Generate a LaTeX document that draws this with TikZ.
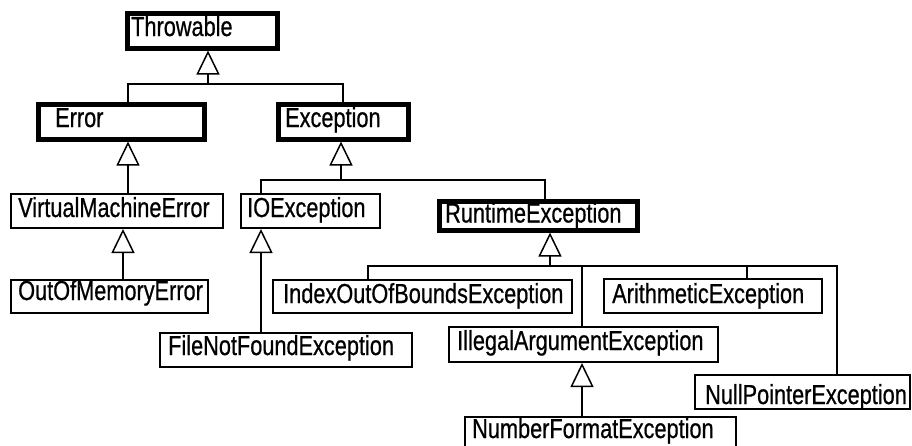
\documentclass[tikz,border=0pt]{standalone}
\usepackage{fontspec}
\setmainfont{Liberation Sans}[FakeStretch=0.79,FakeBold=0.6]
\usetikzlibrary{arrows.meta}
% name, left, top, right, bottom, text x, text baseline, text, border width
\newcommand{\umlbox}[9]{%
  \node[draw, line width=#9, anchor=north west,
        minimum width={#4-#2-#9}, minimum height={#5-#3-#9}]
        (#1) at ({#2+#9/2},{#3+#9/2}) {};
  \node[lbl] (#1-t) at (#6,#7) {#8};
}
\begin{document}
\begin{tikzpicture}[x=1pt,y=-1pt,
  every node/.style={inner sep=0pt},
  lbl/.style={anchor=base west, font=\fontsize{27.5}{31}\selectfont},
  conn/.style={line width=2pt},
  inh/.style={line width=2pt,
    -{Triangle[open, length=24pt, width=23pt, line width=1.5pt]}}]
\clip (0,0) rectangle (912,445);
\useasboundingbox (0,0) rectangle (912,445);
\fill[white] (0,0) rectangle (912,445);

\umlbox{thr}{122}{8}{277}{48}{131}{36}{Throwable}{5}
\umlbox{err}{33}{99}{204}{139}{55}{127}{Error}{5}
\umlbox{exc}{273}{99}{408}{139}{285}{127}{Exception}{5}
\umlbox{rt}{434}{196}{637}{230}{445}{222.5}{RuntimeException}{5}
\umlbox{vme}{9}{192}{223}{228}{18}{217}{VirtualMachineError}{2}
\umlbox{io}{239}{192}{380}{228}{247}{217}{IOException}{2}
\umlbox{oom}{9}{278}{208}{313}{18}{300}{OutOfMemoryError}{2}
\umlbox{fnf}{158}{331}{412}{367}{168}{355}{FileNotFoundException}{2}
\umlbox{idx}{271}{278}{572}{313}{283}{303}{IndexOutOfBoundsException}{2}
\umlbox{ari}{602}{277}{822}{313}{612}{303}{ArithmeticException}{2}
\umlbox{iae}{447}{325}{718}{362}{457}{350}{IllegalArgumentException}{2}
\umlbox{npe}{693}{373}{910}{409}{705}{404}{NullPointerException}{2}
\umlbox{nfe}{463}{415}{736}{460}{472}{438}{NumberFormatException}{2}

% junctions and stems
\coordinate (jT) at (208,84);
\coordinate (eS) at (128,84);
\coordinate (jE) at (341,180);
\coordinate (ioS) at (261,180);
\coordinate (rtS) at (545,180);
\coordinate (vS) at (123,250);
\coordinate (jR) at (550,266);
\coordinate (iS) at (368,266);
\coordinate (aS) at (582,266);
\coordinate (arS) at (747,266);
\coordinate (nS) at (837,266);

% Throwable
\draw[inh] (jT) -- (jT |- thr.south);
\draw[conn] (eS |- err.north) -- (eS) -- (jT) -| (exc.north);
% Error
\draw[inh] (eS |- vme.north) -- (eS |- err.south);
% Exception
\draw[inh] (jE) -- (jE |- exc.south);
\draw[conn] (ioS |- io.north) -- (ioS) -- (rtS) -- (rtS |- rt.north);
% VirtualMachineError
\draw[inh] (vS |- oom.north) -- (vS |- vme.south);
% IOException
\draw[inh] (ioS |- fnf.north) -- (ioS |- io.south);
% RuntimeException
\draw[inh] (jR) -- (jR |- rt.south);
\draw[conn] (iS |- idx.north) -- (iS) -- (nS) -- (nS |- npe.north);
\draw[conn] (aS) -- (aS |- iae.north);
\draw[conn] (arS) -- (arS |- ari.north);
% IllegalArgumentException
\draw[inh] (aS |- nfe.north) -- (aS |- iae.south);
\end{tikzpicture}
\end{document}
